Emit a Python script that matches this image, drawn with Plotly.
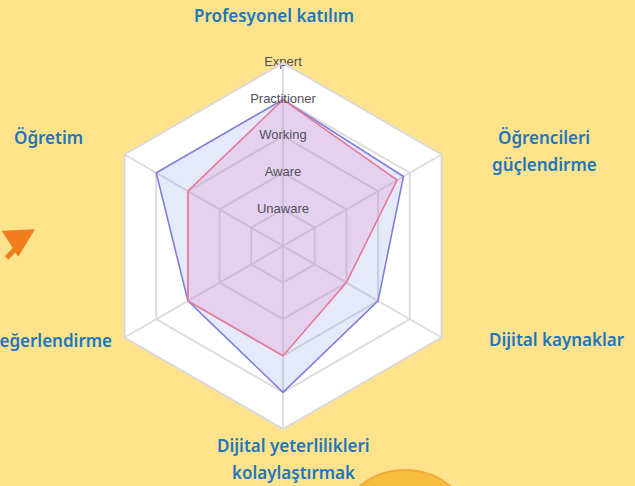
import plotly.graph_objects as go

W, H = 635, 486

categories = ["Profesyonel katılım", "Öğrencileri güçlendirme", "Dijital kaynaklar",
              "Dijital yeterlilikleri kolaylaştırmak", "Değerlendirme", "Öğretim"]
blue_values = [4, 3.8, 3, 4, 3, 4]
pink_values = [4, 3.6, 2, 3, 3, 3]
level_values = [1, 2, 3, 4, 5]
level_labels = ["Unaware", "Aware", "Working", "Practitioner", "Expert"]

# label display lines (same text as categories, split for layout)
label_lines = [["Profesyonel katılım"], ["Öğrencileri", "güçlendirme"], ["Dijital kaynaklar"],
               ["Dijital yeterlilikleri", "kolaylaştırmak"], ["Değerlendirme"], ["Öğretim"]]
# pixel anchor (x, y of first line center, xanchor)
label_pos = [(274, 15, "center"), (544, 137, "center"), (557, 339, "center"),
             (293, 445, "center"), (114, 340, "right"), (48, 137, "center")]

def close(v):
    return list(v) + [v[0]]

fig = go.Figure()
fig.add_trace(go.Scatterpolar(
    r=close(blue_values), theta=close(categories), mode="lines", fill="toself",
    line=dict(color="rgb(125,128,222)", width=1.6),
    fillcolor="rgba(130,145,240,0.20)", hoverinfo="skip"))
fig.add_trace(go.Scatterpolar(
    r=close(pink_values), theta=close(categories), mode="lines", fill="toself",
    line=dict(color="rgb(232,120,150)", width=1.6),
    fillcolor="rgba(225,140,200,0.25)", hoverinfo="skip"))
fig.add_trace(go.Scatterpolar(
    r=level_values, theta=[categories[0]] * len(level_values), mode="text",
    text=level_labels, textposition="middle center",
    textfont=dict(family="Liberation Sans, Arial", size=13, color="rgb(80,80,90)"),
    hoverinfo="skip"))

cx, cy, R = 283, 246, 183
polar = dict(
    domain=dict(x=[(cx - R) / W, (cx + R) / W], y=[(H - cy - R) / H, (H - cy + R) / H]),
    bgcolor="white",
    gridshape="linear",
    angularaxis=dict(rotation=90, direction="clockwise", showticklabels=False, ticks="",
                     gridcolor="#dcdcdc", gridwidth=1.5, showline=True,
                     linecolor="#d8d8d8", linewidth=2),
    radialaxis=dict(range=[0, 5], tickvals=level_values, showticklabels=False, ticks="",
                    gridcolor="#dcdcdc", gridwidth=1.5, showline=False),
)

annotations = []
for lines, (x, y, xa) in zip(label_lines, label_pos):
    for i, line in enumerate(lines):
        annotations.append(dict(
            text=line, xref="paper", yref="paper", x=x / W, y=1 - (y + 27 * i) / H,
            xanchor=xa, yanchor="middle", showarrow=False,
            font=dict(family="Noto Sans", size=17, color="rgb(28,118,190)", weight=600)))

def px(x, y):
    return x / W, 1 - y / H

shapes = []
# decorative orange arrow
hx = [px(1.7, 230.7), px(35, 229.3), px(18.3, 256.7)]
path = "M {} {} L {} {} L {} {} Z".format(hx[0][0], hx[0][1], hx[1][0], hx[1][1], hx[2][0], hx[2][1])
shapes.append(dict(type="path", xref="paper", yref="paper", path=path,
                   fillcolor="#F07E1E", line=dict(width=0)))
s0, s1 = px(6.5, 258), px(20, 244)
shapes.append(dict(type="line", xref="paper", yref="paper", x0=s0[0], y0=s0[1], x1=s1[0], y1=s1[1],
                   line=dict(color="#F07E1E", width=5)))
# decorative orange circle at bottom
c0, c1 = px(334, 470), px(476, 612)
shapes.append(dict(type="circle", xref="paper", yref="paper", x0=c0[0], y0=c1[1], x1=c1[0], y1=c0[1],
                   fillcolor="#F8BD3E", line=dict(color="#F4A93A", width=2), layer="below"))

fig.update_layout(
    width=W, height=H, margin=dict(l=0, r=0, t=0, b=0),
    paper_bgcolor="#FFE38C", plot_bgcolor="#FFE38C",
    showlegend=False, polar=polar, annotations=annotations, shapes=shapes,
)

fig.write_html("out.html", config={"displayModeBar": False},
               post_script="document.body.style.margin='0';document.body.style.overflow='hidden';")
